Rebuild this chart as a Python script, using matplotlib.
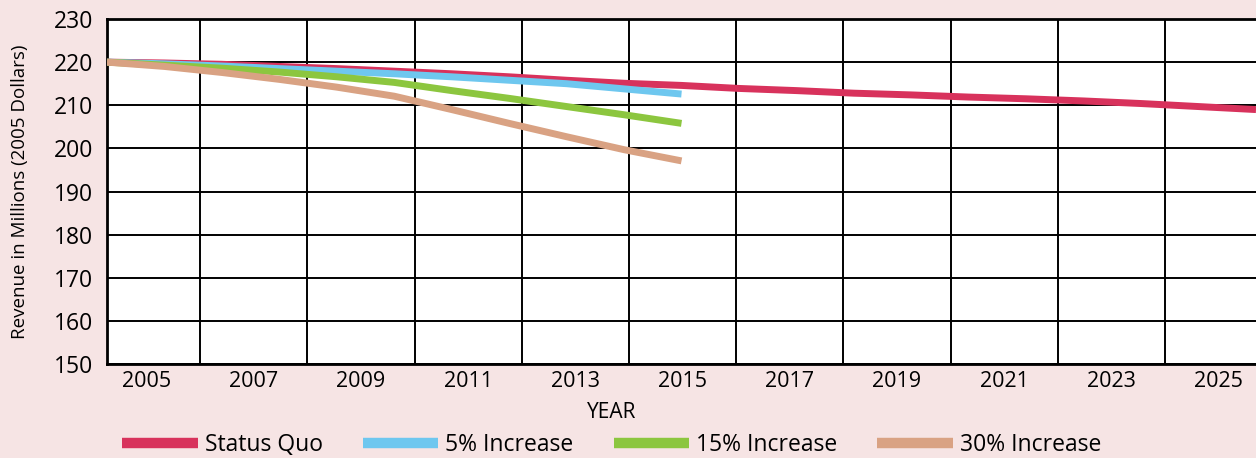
import numpy as np
import matplotlib.pyplot as plt

plt.rcParams['font.family'] = ['Open Sans', 'DejaVu Sans']

years = list(range(2005, 2026))
status_quo = [220.0, 219.8, 219.5, 219.0, 218.5, 217.9, 217.3, 216.6, 215.8, 215.1, 214.6,
              213.9, 213.4, 212.8, 212.4, 211.9, 211.5, 211.0, 210.4, 209.7, 209.0]
years_short = list(range(2005, 2016))
inc_5 = [220.0, 219.6, 219.1, 218.5, 217.9, 217.3, 216.6, 215.8, 215.0, 213.8, 212.6]
inc_15 = [220.0, 219.3, 218.6, 217.7, 216.6, 215.3, 213.4, 211.6, 209.7, 207.8, 205.8]
inc_30 = [220.0, 219.0, 217.6, 216.0, 214.2, 212.1, 209.0, 205.8, 202.7, 199.7, 197.1]
tick_labels = ['2005', '2007', '2009', '2011', '2013', '2015', '2017', '2019', '2021', '2023', '2025']

bg = '#f6e4e4'
fig = plt.figure(figsize=(12.56, 4.58), dpi=100, facecolor=bg)
ax = fig.add_axes([0.0852, 0.2052, 0.9148, 0.7533])
ax.set_facecolor('white')

# grid / label axis (bands of two years)
ax.set_xlim(0.13, 10.85)
ax.set_ylim(150, 230)
ax.set_xticks(range(1, 11))
ax.set_xticklabels([])
ax.set_xticks([i + 0.5 for i in range(11)], minor=True)
ax.set_xticklabels(tick_labels, minor=True, fontsize=15.5)
ax.tick_params(axis='x', which='both', length=0, pad=5)
ax.set_yticks(range(150, 231, 10))
ax.tick_params(axis='y', length=0, labelsize=16.5, pad=10)
ax.grid(True, which='major', color='black', linewidth=1.4)
ax.set_axisbelow(True)
for s in ['left', 'bottom', 'top']:
    ax.spines[s].set_linewidth(2)
    ax.spines[s].set_color('black')
ax.spines['right'].set_visible(False)
ax.set_ylabel('Revenue in Millions (2005 Dollars)', fontsize=13.5, labelpad=18)

# data axis
ax2 = ax.twiny()
ax2.set_xlim(2005, 2025)
ax2.axis('off')
lw = 5
l1, = ax2.plot(years, status_quo, color='#d8325c', lw=lw, solid_capstyle='butt')
l2, = ax2.plot(years_short, inc_5, color='#6ec7ef', lw=lw, solid_capstyle='butt')
l3, = ax2.plot(years_short, inc_15, color='#8cc63f', lw=lw, solid_capstyle='butt')
l4, = ax2.plot(years_short, inc_30, color='#d9a283', lw=lw, solid_capstyle='butt')
l1.set_zorder(1)

fig.text(0.487, 0.1, 'YEAR', ha='center', va='center', fontsize=15)

leg = fig.legend([l1, l2, l3, l4], ['Status Quo', '5% Increase', '15% Increase', '30% Increase'],
                 loc='center', bbox_to_anchor=(0.487, 0.028), ncol=4, frameon=False,
                 fontsize=16.5, handlelength=3.3, handletextpad=0.3, columnspacing=1.75)
for h in leg.get_lines():
    h.set_linewidth(7.5)
    h.set_solid_capstyle('butt')

fig.savefig('out.png', dpi=100, facecolor=bg)
